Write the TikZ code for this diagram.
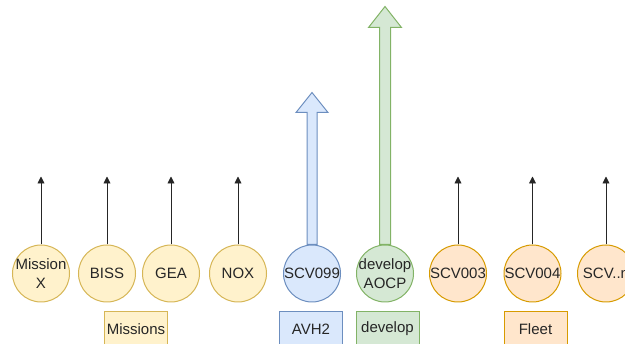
\documentclass[tikz,border=0pt]{standalone}
\usepackage{fontspec}
\setmainfont{Liberation Sans}
\usetikzlibrary{arrows.meta}
\definecolor{ylwF}{HTML}{FFF2CC}\definecolor{ylwD}{HTML}{D6B656}
\definecolor{bluF}{HTML}{DAE8FC}\definecolor{bluD}{HTML}{6C8EBF}
\definecolor{grnF}{HTML}{D5E8D4}\definecolor{grnD}{HTML}{82B366}
\definecolor{orgF}{HTML}{FFE6CC}\definecolor{orgD}{HTML}{D79B00}
\tikzset{
  ball/.style={circle,fill=#1F,draw=#1D,line width=1pt,minimum size=57pt,inner sep=0pt},
  tag/.style={rectangle,fill=#1F,draw=#1D,line width=1pt,minimum width=63pt,minimum height=34pt,inner sep=0pt},
  up/.style={draw=black!85,line width=0.9pt,-{Triangle[length=7pt,width=7pt]}},
  fat/.style={fill=#1F,draw=#1D,line width=1pt,line join=miter}
}
\begin{document}
\begin{tikzpicture}[x=1pt,y=-1pt,font=\fontsize{15pt}{18.5pt}\selectfont,text=black!85]
  \clip (0,0) rectangle (625,344);
  \foreach \n/\x/\t/\c in {mx/41/{Mission\\X}/ylw,biss/107/BISS/ylw,gea/171/GEA/ylw,nox/238/NOX/ylw,
    scvA/312/SCV099/blu,aocp/385/{develop\\AOCP}/grn,scvB/458/SCV003/org,scvC/532.5/SCV004/org,scvN/606/SCV..n/org}
    \node[ball=\c,label={[align=center]center:\t}] (\n) at (\x,273.5) {};
  \foreach \n in {mx,biss,gea,nox,scvB,scvC,scvN} {
    \coordinate (\n-top) at ([yshift=68pt]\n.north);
    \draw[up] (\n.north) -- (\n-top);
  }
  \draw[fat=blu] (scvA.north) ++(-5,0) -- ++(0,-132) -- ++(-11,0) -- ++(16,-20) -- ++(16,20) -- ++(-11,0) -- ++(0,132) -- cycle;
  \draw[fat=grn] (aocp.north) ++(-5.5,0) -- ++(0,-217) -- ++(-11,0) -- ++(16.5,-21) -- ++(16.5,21) -- ++(-11,0) -- ++(0,217) -- cycle;
  \node[tag=ylw] (missions) at (136,329) {Missions};
  \node[tag=blu] (avh) at (311,329) {AVH2};
  \node[tag=grn] (dev) at (387.5,329) {develop};
  \node[tag=org] (fleet) at (535.5,329) {Fleet};
\end{tikzpicture}
\end{document}
